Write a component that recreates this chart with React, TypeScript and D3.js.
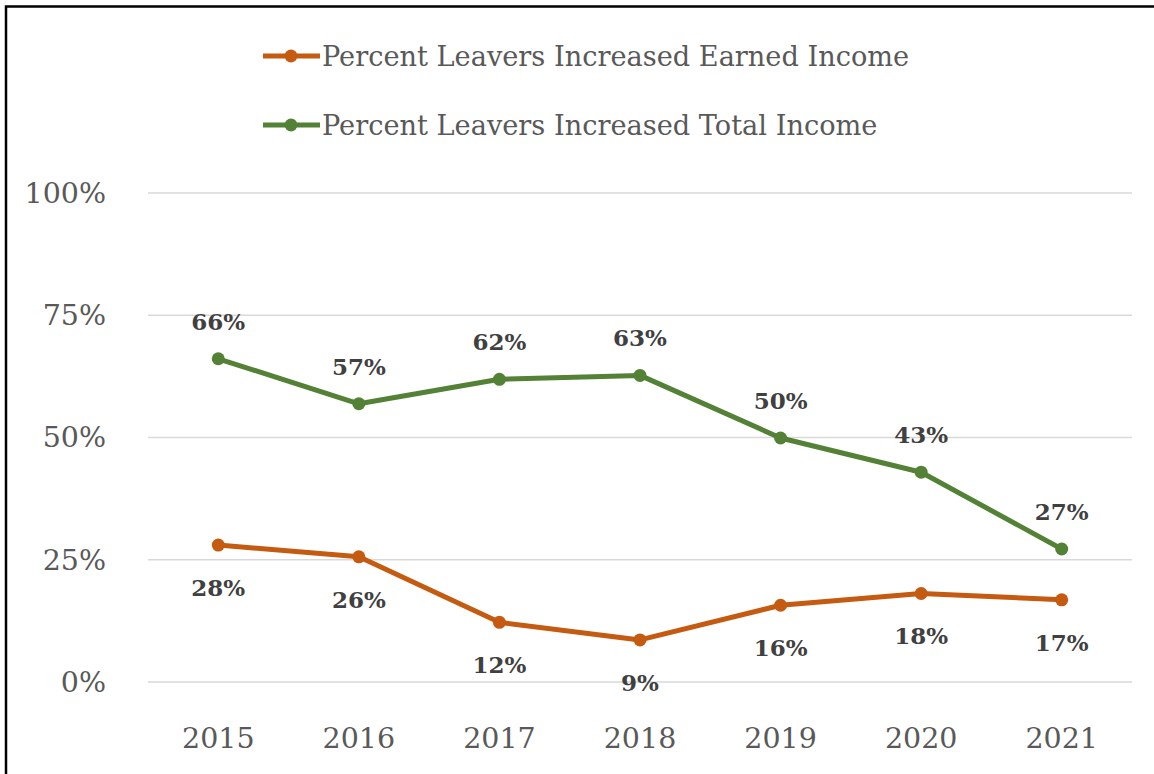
import React from "react";
import * as d3 from "d3";

const years = ["2015", "2016", "2017", "2018", "2019", "2020", "2021"];
const earnedValues = [28.0, 25.6, 12.2, 8.6, 15.7, 18.1, 16.8];
const totalValues = [66.1, 56.9, 61.9, 62.7, 49.9, 42.9, 27.2];
const earnedLabels = ["28%", "26%", "12%", "9%", "16%", "18%", "17%"];
const totalLabels = ["66%", "57%", "62%", "63%", "50%", "43%", "27%"];
const yTicks = [0, 25, 50, 75, 100];
const seriesNames = [
  "Percent Leavers Increased Earned Income",
  "Percent Leavers Increased Total Income",
];

const W = 1154;
const H = 774;
const ORANGE = "#C55A11";
const GREEN = "#538135";
const FONT = "'DejaVu Serif', 'Liberation Serif', serif";

export default function App() {
  const x = d3.scaleBand().domain(years).range([148, 1132]);
  const y = d3.scaleLinear().domain([0, 100]).range([682, 193]);
  const cx = (d: string) => (x(d) as number) + x.bandwidth() / 2;
  const line = d3
    .line<number>()
    .x((_, i) => cx(years[i]))
    .y((v) => y(v));

  const series = [
    { name: seriesNames[0], values: earnedValues, labels: earnedLabels, color: ORANGE, dy: 51 },
    { name: seriesNames[1], values: totalValues, labels: totalLabels, color: GREEN, dy: -29 },
  ];

  return (
    <svg
      width={W}
      height={H}
      style={{ position: "absolute", left: 0, top: 0, background: "#fff" }}
    >
      <rect x={0} y={0} width={W} height={H} fill="#fff" />
      <rect x={6} y={6.5} width={W + 20} height={H + 20} fill="none" stroke="#000" strokeWidth={2.5} />
      {yTicks.map((t) => (
        <g key={t}>
          <line x1={148} x2={1132} y1={y(t)} y2={y(t)} stroke="#d9d9d9" strokeWidth={1.5} />
          <text
            x={106}
            y={y(t)}
            dy="0.35em"
            textAnchor="end"
            fontFamily={FONT}
            fontSize={28.5}
            fill="#595959"
          >
            {t + "%"}
          </text>
        </g>
      ))}
      {years.map((yr) => (
        <text
          key={yr}
          x={cx(yr)}
          y={748}
          textAnchor="middle"
          fontFamily={FONT}
          fontSize={28.5}
          fill="#595959"
        >
          {yr}
        </text>
      ))}
      {series.map((s) => (
        <g key={s.name}>
          <path d={line(s.values) as string} fill="none" stroke={s.color} strokeWidth={5} strokeLinejoin="round" />
          {s.values.map((v, i) => (
            <circle key={i} cx={cx(years[i])} cy={y(v)} r={6.5} fill={s.color} />
          ))}
          {s.values.map((v, i) => (
            <text
              key={"l" + i}
              x={cx(years[i])}
              y={y(v) + s.dy}
              textAnchor="middle"
              fontFamily={FONT}
              fontWeight="bold"
              fontSize={23}
              fill="#404040"
            >
              {s.labels[i]}
            </text>
          ))}
        </g>
      ))}
      {series.map((s, i) => {
        const ly = 56 + i * 69;
        return (
          <g key={"leg" + i}>
            <line x1={263} x2={320} y1={ly} y2={ly} stroke={s.color} strokeWidth={5} />
            <circle cx={291} cy={ly} r={6.5} fill={s.color} />
            <text x={322} y={ly} dy="0.35em" fontFamily={FONT} fontSize={27.2} fill="#595959">
              {s.name}
            </text>
          </g>
        );
      })}
    </svg>
  );
}
